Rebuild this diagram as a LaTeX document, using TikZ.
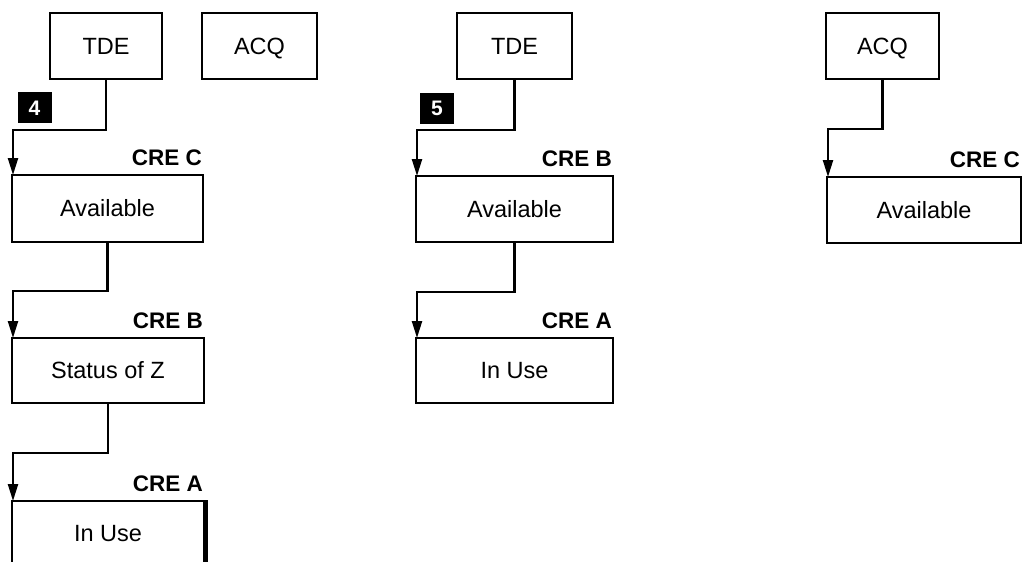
\documentclass[tikz,border=0pt]{standalone}
\usepackage{fontspec}
\setmainfont{Liberation Sans}
\usetikzlibrary{arrows.meta}
\tikzset{
  box/.style={draw, line width=2.9pt, outer sep=0pt, inner sep=0pt, text height=16.5pt, text depth=0pt, font=\fontsize{23.5}{27}\selectfont},
  crelabel/.style={anchor=base east, inner sep=0pt, font=\bfseries\fontsize{22.5}{26}\selectfont},
  badge/.style={fill=black, text=white, inner sep=0pt, minimum width=34pt, minimum height=31pt, text height=15pt, text depth=0pt, font=\bfseries\fontsize{21}{23}\selectfont},
  conn/.style={line width=2.3pt, -{Triangle[length=17pt,width=10pt]}},
  thickedge/.style={line width=4.5pt}
}
\begin{document}
\begin{tikzpicture}[x=1pt,y=-1pt]
\path[use as bounding box] (0,0) rectangle (1023,562);
\clip (0,0) rectangle (1023,562);
% left column
\node[box, minimum width=112pt, minimum height=66pt] (tde1) at (106,46) {TDE};
\node[box, minimum width=115pt, minimum height=66pt] (acq1) at (259.5,46) {ACQ};
\node[badge] (b4) at (34.5,107.5) {4};
\node[box, minimum width=191pt, minimum height=67pt] (av1) at (107.5,208.5) {Available};
\node[crelabel] (lc1) at ([xshift=-1pt,yshift=10pt]av1.north east) {CRE C};
\node[box, minimum width=192pt, minimum height=65pt] (st1) at (108,370.5) {Status of Z};
\node[crelabel] (lb1) at ([xshift=-1pt,yshift=10pt]st1.north east) {CRE B};
\node[box, minimum width=192pt, minimum height=130pt] (iu1) at (108,566) {};
\node[box, draw=none, minimum width=192pt, minimum height=65pt] (iu1t) at (108,533.5) {In Use};
\node[crelabel] (la1) at ([xshift=-1pt,yshift=10pt]iu1.north east) {CRE A};
\draw[thickedge] ([xshift=1.5pt,yshift=1pt]iu1.north east) -- ([xshift=1.5pt]iu1.south east);
\draw[conn] (tde1.south) -- ++(0,51) -| ([xshift=1pt]av1.north west);
\draw[conn] (av1.south) -- ++(0,49) -| ([xshift=1pt]st1.north west);
\draw[conn] (st1.south) -- ++(0,50) -| ([xshift=1pt]iu1.north west);
% middle column
\node[box, minimum width=115pt, minimum height=66pt] (tde2) at (514.5,46) {TDE};
\node[badge] (b5) at (437,108) {5};
\node[box, minimum width=197pt, minimum height=66pt] (av2) at (514.5,209) {Available};
\node[crelabel] (lb2) at ([xshift=-1pt,yshift=10pt]av2.north east) {CRE B};
\node[box, minimum width=197pt, minimum height=65pt] (iu2) at (514.5,370.5) {In Use};
\node[crelabel] (la2) at ([xshift=-1pt,yshift=10pt]iu2.north east) {CRE A};
\draw[conn] (tde2.south) -- ++(0,51) -| ([xshift=1pt]av2.north west);
\draw[conn] (av2.south) -- ++(0,50) -| ([xshift=1pt]iu2.north west);
% right column
\node[box, minimum width=113pt, minimum height=66pt] (acq2) at (882.5,46) {ACQ};
\node[box, minimum width=194pt, minimum height=66pt] (av3) at (924,210) {Available};
\node[crelabel] (lc3) at ([xshift=-1pt,yshift=10pt]av3.north east) {CRE C};
\draw[conn] (acq2.south) -- ++(0,50) -| ([xshift=1pt]av3.north west);
\end{tikzpicture}
\end{document}
